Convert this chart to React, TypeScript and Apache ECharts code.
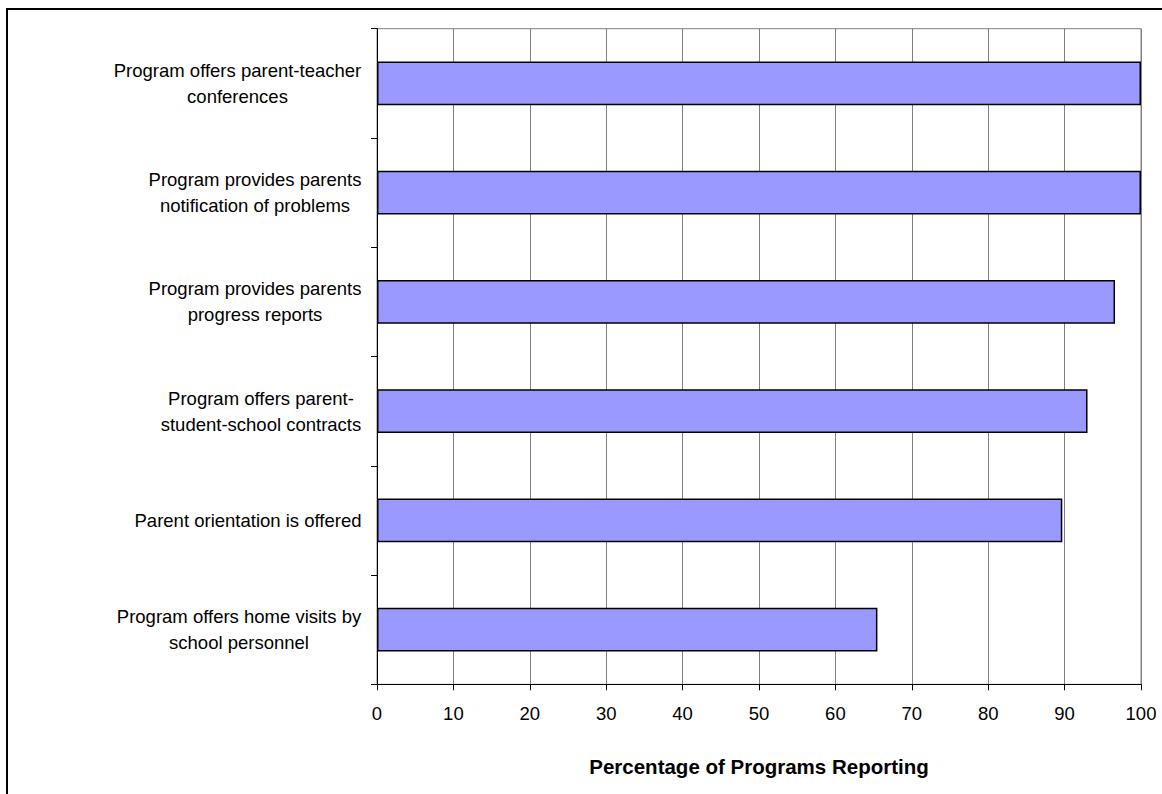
import React, { useEffect, useRef } from "react";
import * as echarts from "echarts";

// Category labels (top to bottom), with the line breaks used on the axis
const categories: string[] = [
  "Program offers parent-teacher\nconferences",
  "Program provides parents\nnotification of problems",
  "Program provides parents\nprogress reports",
  "Program offers parent-\nstudent-school contracts",
  "Parent orientation is offered",
  "Program offers home visits by\nschool personnel",
];

// Percentage of programs reporting each practice
const values: number[] = [100, 100, 96.6, 93.0, 89.7, 65.5];

// Value axis range and step
const axisMin = 0;
const axisMax = 100;
const axisStep = 10;

const axisTitle = "Percentage of Programs Reporting";

const FONT_FAMILY = "'Liberation Sans', Arial, Helvetica, sans-serif";
const LABEL_SIZE = 18.5;
const LABEL_LINE_HEIGHT = 26;

function textWidth(text: string, font: string): number {
  const ctx = document.createElement("canvas").getContext("2d");
  if (!ctx) return text.length * 9;
  ctx.font = font;
  return ctx.measureText(text).width;
}

export default function App() {
  const ref = useRef<HTMLDivElement>(null);

  useEffect(() => {
    if (!ref.current) return;
    const chart = echarts.init(ref.current, undefined, { renderer: "svg" });

    // Each multi-line label is a right-aligned block whose lines are centred
    // within it, so each line gets a rich token as wide as the widest line.
    const font = `${LABEL_SIZE}px ${FONT_FAMILY}`;
    const rich: Record<string, any> = {};
    categories.forEach((label, i) => {
      const w = Math.max(...label.split("\n").map((l) => textWidth(l, font)));
      rich["c" + i] = {
        width: Math.ceil(w) + 1,
        align: "center",
        fontSize: LABEL_SIZE,
        lineHeight: LABEL_LINE_HEIGHT,
        fontFamily: FONT_FAMILY,
        color: "#000",
      };
    });

    chart.setOption({
      animation: false,
      backgroundColor: "#fff",
      textStyle: { fontFamily: FONT_FAMILY, color: "#000" },
      graphic: [
        {
          // outer chart frame, running off the right and bottom edges
          type: "rect",
          silent: true,
          shape: { x: 7, y: 9, width: 1300, height: 900 },
          style: { fill: "none", stroke: "#000", lineWidth: 2 },
          z: 100,
        },
      ],
      grid: {
        left: 377,
        right: 21,
        top: 28.7,
        bottom: 109.7,
        containLabel: false,
        outerBoundsMode: "none",
        show: true,
        borderColor: "#808080",
        borderWidth: 1,
        backgroundColor: "transparent",
      },
      xAxis: {
        type: "value",
        min: axisMin,
        max: axisMax,
        interval: axisStep,
        name: axisTitle,
        nameLocation: "middle",
        nameGap: 72,
        nameTextStyle: {
          fontSize: 20.5,
          fontWeight: "bold",
          color: "#000",
          fontFamily: FONT_FAMILY,
        },
        axisLine: { show: true, lineStyle: { color: "#000", width: 1 } },
        axisTick: { show: true, length: 6, lineStyle: { color: "#000", width: 1 } },
        axisLabel: {
          fontSize: LABEL_SIZE,
          color: "#000",
          margin: 20,
          fontFamily: FONT_FAMILY,
        },
        splitLine: { show: true, lineStyle: { color: "#808080", width: 1 } },
      },
      yAxis: {
        type: "category",
        data: categories,
        inverse: true,
        axisLine: { show: true, lineStyle: { color: "#000", width: 1 } },
        axisTick: {
          show: true,
          length: 6,
          alignWithLabel: false,
          lineStyle: { color: "#000", width: 1 },
        },
        axisLabel: {
          interval: 0,
          margin: 15,
          formatter: (value: string, index: number) =>
            value
              .split("\n")
              .map((line) => `{c${index}|${line}}`)
              .join("\n"),
          rich,
        },
        splitLine: { show: false },
      },
      series: [
        {
          type: "bar",
          data: values,
          barCategoryGap: "60%",
          itemStyle: {
            color: "#9999FF",
            borderColor: "#000",
            borderWidth: 1.5,
          },
        },
      ],
    });

    return () => {
      chart.dispose();
    };
  }, []);

  return (
    <div
      ref={ref}
      style={{ position: "absolute", left: 0, top: 0, width: 1162, height: 794 }}
    />
  );
}
